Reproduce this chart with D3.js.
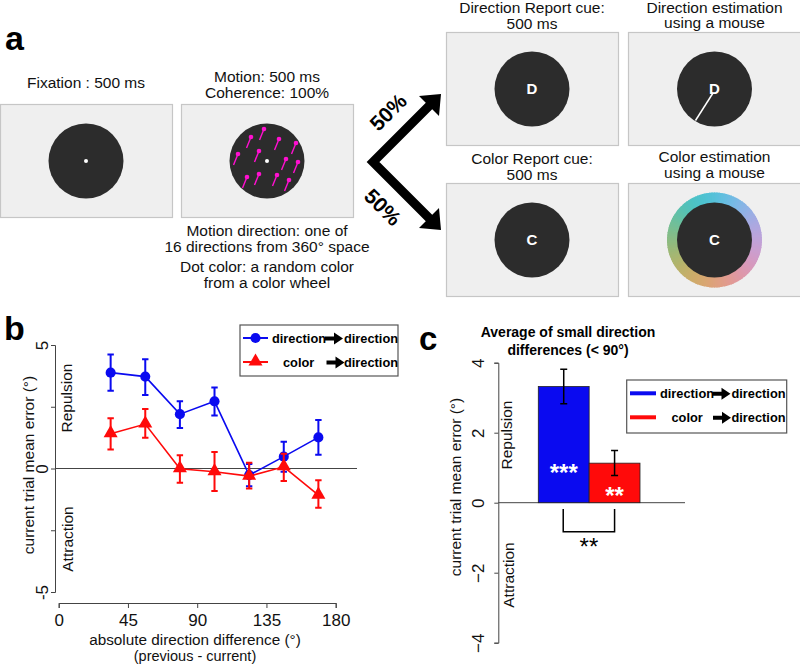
<!DOCTYPE html>
<html><head><meta charset="utf-8">
<script src="https://cdn.jsdelivr.net/npm/d3@7"></script>
<style>body{margin:0;background:#fff} svg{display:block} text{font-family:"Liberation Sans",Arial,Helvetica,sans-serif}</style>
</head><body><svg id="chart" width="800" height="664"></svg>
<script>
// ---------- DATA ----------
// Panel b: binned absolute direction difference (deg)
const diffBins = [33.75, 56.25, 78.75, 101.25, 123.75, 146.25, 168.75];
const dirMean = [3.88, 3.72, 2.20, 2.72, -0.27, 0.48, 1.26];
const dirLo   = [3.15, 2.98, 1.64, 2.15, -0.72, -0.13, 0.56];
const dirHi   = [4.62, 4.42, 2.72, 3.28, 0.18, 1.08, 1.96];
const colMean = [1.41, 1.80, -0.01, -0.13, -0.31, 0.07, -1.08];
const colLo   = [0.77, 1.24, -0.58, -0.91, -0.81, -0.51, -1.59];
const colHi   = [2.03, 2.41, 0.54, 0.67, 0.23, 0.60, -0.48];
const xTicksB = [0, 45, 90, 135, 180];
const yTicksB = [-5, -2.5, 0, 2.5, 5];
const yTickLabelsB = {"-5": "-5", "0": "0", "5": "5"};
// Panel c
const barCats  = ["direction", "color"];
const barMeans = [3.32, 1.13];
const barLo    = [2.83, 0.78];
const barHi    = [3.81, 1.49];
const barStars = ["***", "**"];
const yTicksC  = [-4, -2, 0, 2, 4];
// Panel a illustration: motion dots (offsets from aperture centre)
const motionDots = [[-3,-32],[-16,-24],[12,-22],[29,-18],[-8,-10],[-29,-7],[19,-2],[31,1],[-20,16],[-8,13],[10,14],[22,19]];
const wheelColors = ["#52c2dc","#80b8e8","#aaa8e2","#c8a0d6","#dc96b6","#e49a8c","#d8a86a","#bcb266","#94ba7a","#6cc09c","#46c2c4"];

const BLUE = "#0a0af0", RED = "#ff0a0a";
const FS = 15.5;
const svg = d3.select("#chart");

// ---------- PANEL A ----------
svg.append("text").attr("x", 5).attr("y", 50).attr("font-size", 34).attr("font-weight", "bold").text("a");

function screenBox(x0, y0, x1, y1) {
  svg.append("rect").attr("x", x0 + 0.5).attr("y", y0 + 0.5).attr("width", x1 - x0).attr("height", y1 - y0)
    .attr("fill", "#efefef").attr("stroke", "#c6c6c6").attr("stroke-width", 1.2);
}
function aperture(cx, cy) {
  svg.append("circle").attr("cx", cx).attr("cy", cy).attr("r", 37.5).attr("fill", "#2c2c2c");
}
function label(lines, cx, y0, dy) {
  lines.forEach((t, i) => svg.append("text").attr("x", cx).attr("y", y0 + i * dy)
    .attr("text-anchor", "middle").attr("font-size", FS).attr("fill", "#111").text(t));
}

// Fixation
screenBox(0, 104, 172, 217); aperture(86, 161);
svg.append("circle").attr("cx", 86).attr("cy", 161).attr("r", 2).attr("fill", "#fff");
label(["Fixation : 500 ms"], 86, 88, 16);

// Motion
screenBox(181, 104, 353, 217); aperture(267, 161);
svg.append("circle").attr("cx", 267).attr("cy", 161).attr("r", 2).attr("fill", "#fff");
motionDots.forEach(([dx, dy]) => {
  const hx = 267 + dx, hy = 161 + dy;
  svg.append("line").attr("x1", hx).attr("y1", hy).attr("x2", hx - 4.5).attr("y2", hy + 11)
    .attr("stroke", "#ff10d0").attr("stroke-width", 1.4);
  svg.append("circle").attr("cx", hx).attr("cy", hy).attr("r", 2.3).attr("fill", "#ff10d0");
});
label(["Motion: 500 ms", "Coherence: 100%"], 267, 82, 16);
label(["Motion direction: one of", "16 directions from 360\u00b0 space"], 267, 236, 16);
label(["Dot color: a random color", "from a color wheel"], 267, 272, 16);

// Branching arrows
svg.append("path").attr("d", "M431,104 L373,162 L431,220").attr("fill", "none")
  .attr("stroke", "#000").attr("stroke-width", 9).attr("stroke-linejoin", "miter");
svg.append("path").attr("d", "M441,94 L419,96 L439,116 Z").attr("fill", "#000");
svg.append("path").attr("d", "M441,230 L419,228 L439,208 Z").attr("fill", "#000");
svg.append("text").attr("transform", "translate(388,112) rotate(-45)").attr("text-anchor", "middle")
  .attr("dominant-baseline", "central").attr("font-size", 21).attr("font-weight", "bold").text("50%");
svg.append("text").attr("transform", "translate(383,207) rotate(45)").attr("text-anchor", "middle")
  .attr("dominant-baseline", "central").attr("font-size", 21).attr("font-weight", "bold").text("50%");

// Direction report cue
screenBox(446, 32, 618, 145); aperture(532, 89);
svg.append("text").attr("x", 532).attr("y", 94).attr("text-anchor", "middle").attr("font-size", 15)
  .attr("font-weight", "bold").attr("fill", "#fff").text("D");
label(["Direction Report cue:", "500 ms"], 532, 12.5, 16);

// Direction estimation
screenBox(628, 32, 802, 145); aperture(714.5, 89);
svg.append("text").attr("x", 714.5).attr("y", 94).attr("text-anchor", "middle").attr("font-size", 15)
  .attr("font-weight", "bold").attr("fill", "#fff").text("D");
svg.append("line").attr("x1", 713).attr("y1", 93).attr("x2", 695.5).attr("y2", 120.5)
  .attr("stroke", "#fff").attr("stroke-width", 1.5);
label(["Direction estimation", "using a mouse"], 714.5, 12.8, 15.5);

// Color report cue
screenBox(446, 183, 618, 296); aperture(532, 240);
svg.append("text").attr("x", 532).attr("y", 245).attr("text-anchor", "middle").attr("font-size", 15)
  .attr("font-weight", "bold").attr("fill", "#fff").text("C");
label(["Color Report cue:", "500 ms"], 532, 164, 16);

// Color estimation with colour wheel
screenBox(628, 183, 802, 296);
const wheelInterp = d3.interpolateRgbBasisClosed(wheelColors);
const nSeg = 120;
const ringArc = d3.arc().innerRadius(36).outerRadius(47.5);
const ring = svg.append("g").attr("transform", "translate(714.5,240)");
d3.range(nSeg).forEach(i => {
  ring.append("path").attr("d", ringArc({startAngle: i / nSeg * 2 * Math.PI - 0.01, endAngle: (i + 1) / nSeg * 2 * Math.PI + 0.01}))
    .attr("fill", wheelInterp(i / nSeg));
});
aperture(714.5, 240);
svg.append("text").attr("x", 714.5).attr("y", 245).attr("text-anchor", "middle").attr("font-size", 15)
  .attr("font-weight", "bold").attr("fill", "#fff").text("C");
label(["Color estimation", "using a mouse"], 714.5, 162, 16);

// ---------- helpers ----------
function arrowGlyph(g, x, y) {
  g.append("path").attr("d", `M${x},${y - 2} H${x + 9} V${y - 6} L${x + 18},${y} L${x + 9},${y + 6} V${y + 2} H${x} Z`).attr("fill", "#000");
}
function rotatedText(x, y, txt, size) {
  svg.append("text").attr("transform", `translate(${x},${y}) rotate(-90)`).attr("text-anchor", "middle")
    .attr("font-size", size || FS).attr("fill", "#111").text(txt);
}

// ---------- PANEL B ----------
svg.append("text").attr("x", 4).attr("y", 340).attr("font-size", 34).attr("font-weight", "bold").text("b");
const xB = d3.scaleLinear().domain([0, 180]).range([58.7, 335.7]);
const yB = d3.scaleLinear().domain([-5, 5]).range([592, 345]);

const gxB = svg.append("g").attr("transform", "translate(0,603)")
  .call(d3.axisBottom(xB).tickValues(xTicksB).tickSizeOuter(0).tickSize(5).tickPadding(4));
const gyB = svg.append("g").attr("transform", "translate(55,0)")
  .call(d3.axisLeft(yB).tickValues(yTicksB).tickSizeOuter(0).tickSize(4).tickFormat(d => yTickLabelsB[String(d)] || ""));
[gxB, gyB].forEach(g => {
  g.select(".domain").attr("stroke", "#444").attr("stroke-width", 1);
  g.selectAll(".tick line").attr("stroke", "#444");
  g.selectAll("text").attr("font-size", 17).attr("fill", "#111")
    .attr("font-family", '"Liberation Sans",Arial,sans-serif');
});
gyB.selectAll(".tick text").attr("transform", "rotate(-90)").attr("x", 0).attr("y", -7).attr("dy", 0)
  .attr("text-anchor", "middle");
gxB.selectAll(".tick text").attr("dy", "0.85em");

// zero line
svg.append("line").attr("x1", 55).attr("x2", 357).attr("y1", yB(0)).attr("y2", yB(0))
  .attr("stroke", "#444").attr("stroke-width", 1);

rotatedText(34, 465, "current trial mean error (\u00b0)");
rotatedText(72, 398, "Repulsion");
rotatedText(73, 539, "Attraction");
svg.append("text").attr("x", 195).attr("y", 644.5).attr("text-anchor", "middle").attr("font-size", 15.3)
  .attr("fill", "#111").text("absolute direction difference (\u00b0)");
svg.append("text").attr("x", 195).attr("y", 660.5).attr("text-anchor", "middle").attr("font-size", 14.5)
  .attr("fill", "#111").text("(previous - current)");

function series(mean, lo, hi, color, marker) {
  const pts = diffBins.map((x, i) => ({x, m: mean[i], lo: lo[i], hi: hi[i]}));
  const g = svg.append("g");
  g.append("path").datum(pts).attr("fill", "none").attr("stroke", color).attr("stroke-width", 1.6)
    .attr("d", d3.line().x(d => xB(d.x)).y(d => yB(d.m)));
  pts.forEach(d => {
    const x = xB(d.x);
    g.append("path").attr("d", `M${x},${yB(d.lo)} V${yB(d.hi)} M${x - 3.2},${yB(d.lo)} H${x + 3.2} M${x - 3.2},${yB(d.hi)} H${x + 3.2}`)
      .attr("stroke", color).attr("stroke-width", 2).attr("fill", "none");
  });
  const isTri = marker === d3.symbolTriangle;
  g.selectAll(".mk").data(pts).enter().append("path")
    .attr("transform", d => `translate(${xB(d.x)},${yB(d.m) + (isTri ? -0.5 : 0)})`)
    .attr("d", d3.symbol().type(marker).size(isTri ? 85 : 80))
    .attr("fill", color);
}
series(dirMean, dirLo, dirHi, BLUE, d3.symbolCircle);
series(colMean, colLo, colHi, RED, d3.symbolTriangle);

// legend b
const lgB = svg.append("g");
lgB.append("rect").attr("x", 240).attr("y", 325).attr("width", 158).attr("height", 51)
  .attr("fill", "#fff").attr("stroke", "#555").attr("stroke-width", 1.2);
lgB.append("line").attr("x1", 243).attr("x2", 268).attr("y1", 338).attr("y2", 338).attr("stroke", BLUE).attr("stroke-width", 2);
lgB.append("path").attr("transform", "translate(255.5,338)").attr("d", d3.symbol().type(d3.symbolCircle).size(80)).attr("fill", BLUE);
lgB.append("line").attr("x1", 243).attr("x2", 268).attr("y1", 362).attr("y2", 362).attr("stroke", RED).attr("stroke-width", 2);
lgB.append("path").attr("transform", "translate(255.5,361.5)").attr("d", d3.symbol().type(d3.symbolTriangle).size(85)).attr("fill", RED);
[["direction", 272, 342.5], ["direction", 344, 342.5], ["color", 283, 366.5], ["direction", 344, 366.5]].forEach(([t, x, y]) =>
  lgB.append("text").attr("x", x).attr("y", y).attr("font-size", 12.8).attr("font-weight", "bold").text(t));
arrowGlyph(lgB, 325, 338.5);
arrowGlyph(lgB, 326.5, 362.5);

// ---------- PANEL C ----------
svg.append("text").attr("x", 419).attr("y", 350).attr("font-size", 33).attr("font-weight", "bold").text("c");
svg.append("text").attr("x", 568).attr("y", 337).attr("text-anchor", "middle").attr("font-size", 14)
  .attr("font-weight", "bold").text("Average of small direction");
svg.append("text").attr("x", 568).attr("y", 355).attr("text-anchor", "middle").attr("font-size", 14)
  .attr("font-weight", "bold").text("differences (< 90\u00b0)");

const yC = d3.scaleLinear().domain([-4, 4]).range([642.7, 362.7]);
const xC = d3.scaleBand().domain(barCats).range([538.3, 640]).padding(0);
const gyC = svg.append("g").attr("transform", "translate(498.3,0)")
  .call(d3.axisLeft(yC).tickValues(yTicksC).tickSizeOuter(0).tickSize(4).tickFormat(d3.format("d")));
gyC.select(".domain").attr("stroke", "#444");
gyC.selectAll(".tick line").attr("stroke", "#444");
gyC.selectAll(".tick text").attr("font-size", 17).attr("fill", "#111").attr("font-family", '"Liberation Sans",Arial,sans-serif')
  .attr("transform", "rotate(-90)").attr("x", 0).attr("y", -14).attr("dy", 0).attr("text-anchor", "middle");

svg.append("line").attr("x1", 498.3).attr("x2", 685).attr("y1", yC(0)).attr("y2", yC(0))
  .attr("stroke", "#444").attr("stroke-width", 1);

const barColors = [BLUE, RED];
barCats.forEach((c, i) => {
  svg.append("rect").attr("x", xC(c)).attr("y", yC(barMeans[i])).attr("width", xC.bandwidth())
    .attr("height", yC(0) - yC(barMeans[i])).attr("fill", barColors[i]).attr("stroke", "#222").attr("stroke-width", 0.8);
});
barCats.forEach((c, i) => {
  const x = xC(c) + xC.bandwidth() / 2;
  svg.append("path").attr("d", `M${x},${yC(barLo[i])} V${yC(barHi[i])} M${x - 3.5},${yC(barLo[i])} H${x + 3.5} M${x - 3.5},${yC(barHi[i])} H${x + 3.5}`)
    .attr("stroke", "#000").attr("stroke-width", 1.5).attr("fill", "none");
});
svg.append("text").attr("x", xC("direction") + xC.bandwidth() / 2).attr("y", 481).attr("text-anchor", "middle")
  .attr("font-size", 24).attr("font-weight", "bold").attr("fill", "#fff").text(barStars[0]);
svg.append("text").attr("x", xC("color") + xC.bandwidth() / 2).attr("y", 504).attr("text-anchor", "middle")
  .attr("font-size", 24).attr("font-weight", "bold").attr("fill", "#fff").text(barStars[1]);

// significance bracket
const bx1 = xC("direction") + xC.bandwidth() / 2 - 0.5, bx2 = xC("color") + xC.bandwidth() / 2;
svg.append("path").attr("d", `M${bx1},509 V531.7 H${bx2} V509`).attr("fill", "none").attr("stroke", "#000").attr("stroke-width", 1.5);
svg.append("text").attr("x", (bx1 + bx2) / 2).attr("y", 555).attr("text-anchor", "middle").attr("font-size", 24).text("**");

rotatedText(461, 487, "current trial mean error (\u00b0)");
rotatedText(512, 435, "Repulsion");
rotatedText(514, 575, "Attraction");

// legend c
const lgC = svg.append("g");
lgC.append("rect").attr("x", 626.7).attr("y", 380).attr("width", 160).attr("height", 53)
  .attr("fill", "#fff").attr("stroke", "#555").attr("stroke-width", 1.2);
lgC.append("line").attr("x1", 630).attr("x2", 656).attr("y1", 393.3).attr("y2", 393.3).attr("stroke", BLUE).attr("stroke-width", 4);
lgC.append("line").attr("x1", 630).attr("x2", 656).attr("y1", 417.3).attr("y2", 417.3).attr("stroke", RED).attr("stroke-width", 4);
[["direction", 660, 397.8], ["direction", 731.5, 397.8], ["color", 671.5, 421.8], ["direction", 731.5, 421.8]].forEach(([t, x, y]) =>
  lgC.append("text").attr("x", x).attr("y", y).attr("font-size", 12.8).attr("font-weight", "bold").text(t));
arrowGlyph(lgC, 712.5, 393.8);
arrowGlyph(lgC, 713, 417.8);
</script></body></html>
